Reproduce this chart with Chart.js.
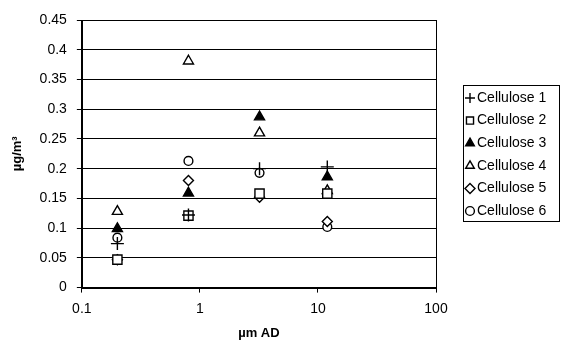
<!DOCTYPE html>
<html>
<head>
<meta charset="utf-8">
<script src="https://cdn.jsdelivr.net/npm/chart.js@4"></script>
<style>
  body { margin: 0; background: #fff; }
  #wrap { width: 561px; height: 342px; }
</style>
</head>
<body>
<div id="wrap"><canvas id="myChart" width="561" height="342"></canvas></div>
<script>
const sizes = [0.2, 0.8, 3.2, 12];
const seriesNames = ['Cellulose 1', 'Cellulose 2', 'Cellulose 3', 'Cellulose 4', 'Cellulose 5', 'Cellulose 6'];
const cellulose1 = [0.074, 0.122, 0.200, 0.203];
const cellulose2 = [0.047, 0.121, 0.158, 0.158];
const cellulose3 = [0.099, 0.159, 0.287, 0.186];
const cellulose4 = [0.128, 0.381, 0.260, 0.163];
const cellulose5 = [0.047, 0.180, 0.152, 0.111];
const cellulose6 = [0.084, 0.213, 0.193, 0.102];
const xTicks = [0.1, 1, 10, 100];

const FONT = 'Arial, "Liberation Sans", sans-serif';
const allSeries = [cellulose1, cellulose2, cellulose3, cellulose4, cellulose5, cellulose6];
const styles = [
  { pointStyle: 'cross', radius: 6.5, fill: '#fff' },
  { pointStyle: 'rect', radius: 6.5, fill: '#fff' },
  { pointStyle: 'triangle', radius: 5.8, fill: '#000' },
  { pointStyle: 'triangle', radius: 5.8, fill: '#fff' },
  { pointStyle: 'rectRot', radius: 5, fill: '#fff' },
  { pointStyle: 'circle', radius: 4.4, fill: '#fff' }
];

const datasets = allSeries.map((vals, i) => ({
  label: seriesNames[i],
  data: vals.map((v, j) => ({ x: sizes[j], y: v })),
  pointStyle: styles[i].pointStyle,
  pointRadius: styles[i].radius,
  pointHoverRadius: styles[i].radius,
  borderColor: '#000',
  backgroundColor: styles[i].fill,
  pointBorderWidth: 1.4,
  showLine: false
}));

// plot frame + boxed legend at the right
const frame = {
  id: 'frame',
  afterDraw(chart) {
    const c = chart.ctx, a = chart.chartArea;
    c.save();
    c.strokeStyle = '#000';
    c.lineWidth = 1;
    c.strokeRect(Math.round(a.left) + 0.5, Math.round(a.top) + 0.5, Math.round(a.right - a.left), Math.round(a.bottom - a.top));

    const bx = 463, by = 85, bw = 96, bh = 136, step = 22.6;
    c.strokeRect(bx + 0.5, by + 0.5, bw, bh);
    c.font = '14px ' + FONT;
    c.textBaseline = 'middle';
    chart.data.datasets.forEach((ds, i) => {
      const y = by + 13 + i * step;
      c.fillStyle = ds.backgroundColor;
      c.strokeStyle = '#000';
      c.lineWidth = 1.4;
      Chart.helpers.drawPoint(c, { pointStyle: ds.pointStyle, radius: Math.min(ds.pointRadius, 5), rotation: 0, borderWidth: 1.4 }, bx + 7, y);
      c.fillStyle = '#000';
      c.fillText(ds.label, bx + 14, y);
    });
    c.restore();
  }
};

const ctx = document.getElementById('myChart').getContext('2d');
new Chart(ctx, {
  type: 'scatter',
  data: { datasets },
  options: {
    responsive: false,
    animation: false,
    layout: { padding: { top: 20, right: 125, left: 10, bottom: 0 } },
    plugins: {
      legend: { display: false },
      tooltip: { enabled: false }
    },
    scales: {
      x: {
        type: 'logarithmic',
        min: 0.1,
        max: 100,
        afterBuildTicks(axis) {
          axis.ticks = xTicks.map(v => ({ value: v }));
        },
        ticks: {
          color: '#000',
          font: { family: FONT, size: 14 },
          padding: 8,
          maxRotation: 0,
          callback: v => String(v)
        },
        grid: { drawOnChartArea: false, color: '#000', tickLength: 5 },
        border: { color: '#000' },
        title: {
          display: true,
          text: 'µm AD',
          color: '#000',
          font: { family: FONT, size: 13, weight: 'bold' },
          padding: { top: 0, bottom: 1 }
        }
      },
      y: {
        min: 0,
        max: 0.45,
        ticks: {
          stepSize: 0.05,
          color: '#000',
          font: { family: FONT, size: 14 },
          padding: 10,
          callback: v => String(+v.toFixed(2))
        },
        grid: { color: '#000', tickLength: 5 },
        border: { color: '#000' },
        title: {
          display: true,
          text: 'µg/m³',
          color: '#000',
          font: { family: FONT, size: 13, weight: 'bold' },
          padding: { top: 0, bottom: 4 }
        }
      }
    }
  },
  plugins: [frame]
});
</script>
</body>
</html>
